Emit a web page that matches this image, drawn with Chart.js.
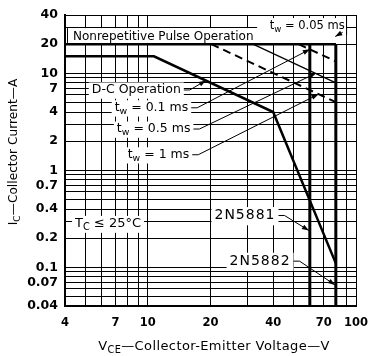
<!DOCTYPE html>
<html><head><meta charset="utf-8">
<script src="https://cdn.jsdelivr.net/npm/chart.js@4/dist/chart.umd.min.js"></script>
<style>html,body{margin:0;padding:0;background:#fff;}#wrap{width:370px;height:356px;}</style>
</head><body><div id="wrap"><canvas id="c" width="370" height="356"></canvas></div>
<script>
// ---- data ----
const xTickLabels = [4, 7, 10, 20, 40, 70, 100];
const yTickLabels = [40, 20, 10, 7, 4, 2, 1, 0.7, 0.4, 0.2, 0.1, 0.07, 0.04];
const xGridValues = [4, 5, 6, 7, 8, 9, 10, 20, 30, 40, 50, 60, 70, 80, 90, 100];
const yGridValues = [0.04, 0.05, 0.06, 0.07, 0.08, 0.09, 0.1, 0.2, 0.3, 0.4, 0.5, 0.6, 0.7, 0.8, 0.9,
                     1, 2, 3, 4, 5, 6, 7, 8, 9, 10, 20, 30, 40];
const dcV = [4, 10.7, 40, 80];
const dcI = [15, 15, 4, 0.11];
const pulse005V = [4, 80];
const pulse005I = [20, 20];
const pulse01V = [53, 80];
const pulse01I = [20, 13.3];
const pulse05V = [32, 80];
const pulse05I = [20, 8];
const pulse1V = [20.2, 80];
const pulse1I = [20, 5.05];
const n5881V = [60, 60];
const n5881I = [20, 0.04];
const n5882V = [80, 80];
const n5882I = [20, 0.04];

const pts = (xs, ys) => xs.map((v, i) => ({ x: v, y: ys[i] }));
const FONT = '"DejaVu Sans", sans-serif';

// annotations placed in data units (V, A)
const notes = [
  { segs: [['D-C Operation']], size: 12.5, at: [5.38, 6.75], tip: [19, 8.45] },
  { segs: [['t'], ['w', 1], [' = 0.1 ms']], size: 12.5, at: [6.93, 4.42], tip: [60, 17.7] },
  { segs: [['t'], ['w', 1], [' = 0.5 ms']], size: 12.5, at: [7.1, 2.67], tip: [64, 10] },
  { segs: [['t'], ['w', 1], [' = 1 ms']], size: 12.5, at: [8.0, 1.45], tip: [66, 6.1] },
  { segs: [['T'], ['C', 1], [' \u2264 25\u00B0C']], size: 13, at: [4.47, 0.282] },
  { segs: [['2N5881']], size: 14, at: [20.9, 0.343], tip: [59.4, 0.24], ls: 1 },
  { segs: [['2N5882']], size: 14, at: [24.7, 0.116], tip: [79.3, 0.066], ls: 1 },
];
const topNote = { segs: [['Nonrepetitive Pulse Operation']], size: 12, at: [4.37, 24.0] };
const tw005Note = { segs: [['t'], ['w', 1], [' = 0.05 ms']], size: 11.5, at: [38.5, 30.6], tip: [79.5, 24] };

function measureRich(ctx, segs, size, ls) {
  let w = 0;
  ctx.letterSpacing = (ls || 0) + 'px';
  for (const [t, sub] of segs) {
    ctx.font = (sub ? size * 0.75 : size) + 'px ' + FONT;
    w += ctx.measureText(t).width;
  }
  ctx.letterSpacing = '0px';
  return w;
}
function drawRich(ctx, segs, x, y, size, ls) {
  let cx = x;
  ctx.letterSpacing = (ls || 0) + 'px';
  ctx.textBaseline = 'middle';
  ctx.textAlign = 'left';
  for (const [t, sub] of segs) {
    ctx.font = (sub ? size * 0.75 : size) + 'px ' + FONT;
    ctx.fillText(t, cx, y + (sub ? size * 0.3 : 0));
    cx += ctx.measureText(t).width;
  }
  ctx.letterSpacing = '0px';
  return cx - x;
}
function arrow(ctx, from, to) {
  const dx = to[0] - from[0], dy = to[1] - from[1];
  const L = Math.hypot(dx, dy) || 1;
  const ux = dx / L, uy = dy / L;
  const bx = to[0] - ux * 7, by = to[1] - uy * 7;
  ctx.beginPath();
  ctx.moveTo(to[0], to[1]);
  ctx.lineTo(bx - uy * 2.5, by + ux * 2.5);
  ctx.lineTo(bx + uy * 2.5, by - ux * 2.5);
  ctx.closePath();
  ctx.fill();
}

const annot = {
  id: 'annot',
  beforeDatasetsDraw(chart) {
    const ctx = chart.ctx, xs = chart.scales.x, ys = chart.scales.y;
    const X = v => xs.getPixelForValue(v), Y = v => ys.getPixelForValue(v);
    ctx.save();
    ctx.fillStyle = '#fff';
    // top label band
    ctx.fillRect(X(4) + 1, Y(29.3), X(89.6) - X(4) - 1, Y(20.6) - Y(29.3));
    ctx.fillRect(X(33.5), Y(37.2), X(89.6) - X(33.5), Y(20.6) - Y(37.2));
    for (const n of notes) {
      const w = measureRich(ctx, n.segs, n.size, n.ls);
      ctx.fillRect(X(n.at[0]) - 3, Y(n.at[1]) - n.size * 0.6, w + 6, n.size * 1.3);
    }
    // brackets of top band
    ctx.strokeStyle = '#000';
    ctx.lineWidth = 1;
    ctx.beginPath();
    ctx.moveTo(X(4) + 2.5, Y(29.3)); ctx.lineTo(X(4) + 2.5, Y(20.6));
    ctx.moveTo(X(89.6) + 0.5, Y(37.2)); ctx.lineTo(X(89.6) + 0.5, Y(25));
    ctx.stroke();
    ctx.restore();
  },
  afterDatasetsDraw(chart) {
    const ctx = chart.ctx, xs = chart.scales.x, ys = chart.scales.y;
    const X = v => xs.getPixelForValue(v), Y = v => ys.getPixelForValue(v);
    ctx.save();
    ctx.fillStyle = '#000';
    ctx.strokeStyle = '#000';
    drawRich(ctx, topNote.segs, X(topNote.at[0]), Y(topNote.at[1]), topNote.size);
    const w005 = drawRich(ctx, tw005Note.segs, X(tw005Note.at[0]), Y(tw005Note.at[1]), tw005Note.size);
    for (const n of notes) {
      const x = X(n.at[0]), y = Y(n.at[1]);
      const w = drawRich(ctx, n.segs, x, y, n.size, n.ls);
      if (n.tip) {
        const s1 = [x + w + 3, y], s2 = [x + w + 9, y];
        const t = [X(n.tip[0]), Y(n.tip[1])];
        ctx.lineWidth = 1;
        ctx.beginPath();
        ctx.moveTo(s1[0], s1[1]); ctx.lineTo(s2[0], s2[1]); ctx.lineTo(t[0], t[1]);
        ctx.stroke();
        arrow(ctx, s2, t);
      }
    }
    // small arrow for tw = 0.05 ms
    {
      const s = [X(tw005Note.at[0]) + w005 - 2, Y(tw005Note.at[1]) + 6];
      const t = [X(tw005Note.tip[0]), Y(tw005Note.tip[1])];
      ctx.lineWidth = 1;
      ctx.beginPath(); ctx.moveTo(s[0], s[1]); ctx.lineTo(t[0], t[1]); ctx.stroke();
      arrow(ctx, s, t);
    }
    ctx.restore();
  },
  afterDraw(chart) {
    const ctx = chart.ctx;
    ctx.save();
    ctx.fillStyle = '#000';
    // x title
    const xsegs = [['V'], ['CE', 1], ['\u2014Collector-Emitter Voltage\u2014V']];
    const xw = measureRich(ctx, xsegs, 13, 0.4);
    drawRich(ctx, xsegs, 214 - xw / 2, 347, 13, 0.4);
    // y title
    const ysegs = [['I'], ['C', 1], ['\u2014Collector Current\u2014A']];
    const yw = measureRich(ctx, ysegs, 12.2, 0);
    ctx.translate(14, 152);
    ctx.rotate(-Math.PI / 2);
    drawRich(ctx, ysegs, -yw / 2, 0, 12.2, 0);
    ctx.restore();
  }
};

const black = '#000';
const ds = (data, w, dash) => ({
  data, showLine: true, borderColor: black, backgroundColor: black,
  borderWidth: w, borderDash: dash || [], pointRadius: 0, tension: 0, fill: false
});

new Chart(document.getElementById('c'), {
  type: 'scatter',
  data: {
    datasets: [
      ds(pts(pulse005V, pulse005I), 2.5),
      ds(pts(pulse1V, pulse1I), 2, [8, 5]),
      ds(pts(pulse05V, pulse05I), 1.3),
      ds(pts(pulse01V, pulse01I), 2, [8, 5]),
      ds(pts(dcV, dcI), 2.5),
      ds(pts(n5881V, n5881I), 3),
      ds(pts(n5882V, n5882I), 3),
    ]
  },
  options: {
    responsive: false,
    animation: false,
    devicePixelRatio: 1,
    layout: { padding: { top: 15, right: 14, left: 0, bottom: 0 } },
    plugins: { legend: { display: false }, tooltip: { enabled: false } },
    scales: {
      x: {
        type: 'logarithmic', min: 4, max: 100,
        afterBuildTicks: s => { s.ticks = xGridValues.map(v => ({ value: v })); },
        afterFit: s => { s.height = 50; s.paddingLeft = 0; s.paddingRight = 0; },
        ticks: {
          autoSkip: false, maxRotation: 0, padding: 10, color: '#000',
          font: { family: 'DejaVu Sans', size: 11.5, weight: 'bold' },
          callback: v => xTickLabels.includes(v) ? String(v) : ''
        },
        grid: { color: '#000', lineWidth: 1, drawTicks: false },
        border: { display: true, color: '#000', width: 2 }
      },
      y: {
        type: 'logarithmic', min: 0.04, max: 40,
        afterBuildTicks: s => { s.ticks = yGridValues.map(v => ({ value: v })); },
        afterFit: s => { s.width = 65; s.paddingTop = 0; s.paddingBottom = 0; },
        ticks: {
          autoSkip: false, padding: 7, color: '#000',
          font: { family: 'DejaVu Sans', size: 12.5, weight: 'bold' },
          callback: v => yTickLabels.includes(v) ? String(v) : ''
        },
        grid: { color: '#000', lineWidth: 1, drawTicks: false },
        border: { display: true, color: '#000', width: 2 }
      }
    }
  },
  plugins: [annot]
});
</script>
</body></html>
